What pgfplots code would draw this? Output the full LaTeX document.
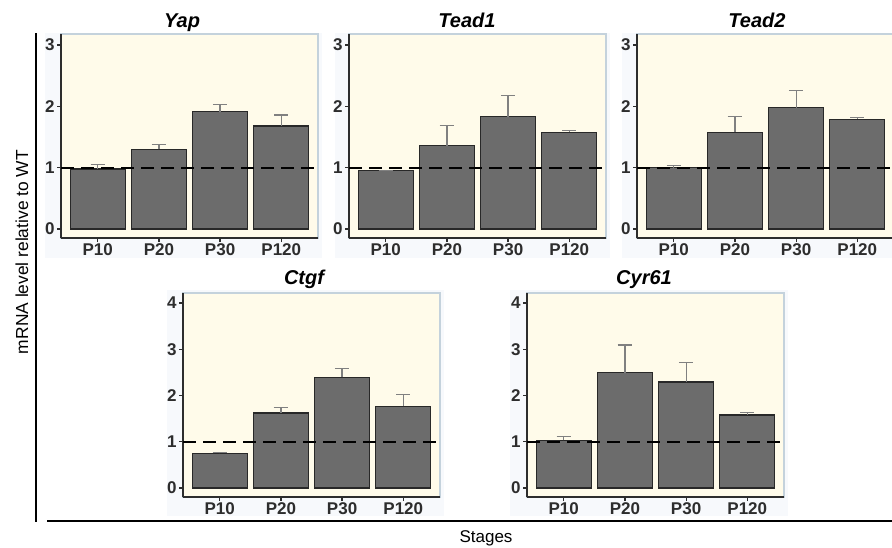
\documentclass[border=0pt]{standalone}
\usepackage{fontspec}
\setmainfont{Liberation Sans}
\usepackage{pgfplots}
\pgfplotsset{compat=1.18}
\definecolor{panelbg}{RGB}{255,251,234}
\definecolor{paneledge}{RGB}{196,210,220}
\definecolor{outerbg}{RGB}{247,249,252}
\definecolor{barfill}{RGB}{108,108,108}
\definecolor{baredge}{RGB}{40,40,40}
\definecolor{errgray}{RGB}{128,128,128}
\definecolor{axisdark}{RGB}{45,45,45}

\pgfplotsset{
  panel/.style={
    scale only axis, width=128.5pt, height=102pt,
    anchor=south west,
    axis background/.style={fill=panelbg, draw=paneledge, line width=0.6pt},
    axis x line*=bottom, axis y line*=left,
    axis line style={-, draw=axisdark, line width=0.7pt},
    every outer x axis line/.append style={-},
    every outer y axis line/.append style={-},
    xmin=-0.6, xmax=3.6, xtick={0,1,2,3},
    xticklabels={P10,P20,P30,P120},
    tick align=outside, major tick length=2pt,
    tick style={draw=axisdark, line width=0.6pt},
    /pgf/number format/assume math mode=true,
    ticklabel style={font=\bfseries\fontsize{8.5}{10}\selectfont, text=axisdark},
    xticklabel style={inner sep=0.6pt},
    yticklabel style={inner sep=1pt},
  },
  top/.style={panel, ymin=-0.147, ymax=3.18, ytick={0,1,2,3}},
  bot/.style={panel, ymin=-0.195, ymax=4.216, ytick={0,1,2,3,4}},
  bars/.style={ybar, bar width=0.9, fill=barfill, draw=baredge, line width=0.6pt,
    error bars/.cd, y dir=plus, y explicit,
    error bar style={errgray, line width=0.6pt},
    error mark options={rotate=90, errgray, line width=0.6pt, mark size=3.6pt}},
  refline/.style={black, line width=1.1pt, dash pattern=on 6.5pt off 3.5pt, forget plot},
}
\newcommand{\gtitle}{\bfseries\itshape\fontsize{10}{12}\selectfont}

\begin{document}
\begin{tikzpicture}
\path[use as bounding box] (0,0) rectangle (446pt,-273.5pt);

% faint panel surrounds
\fill[outerbg] (22.5pt,-16.5pt) rectangle (161pt,-129pt);
\fill[outerbg] (167.5pt,-16.5pt) rectangle (305pt,-129pt);
\fill[outerbg] (311pt,-16.5pt) rectangle (446pt,-129pt);
\fill[outerbg] (83.5pt,-145pt) rectangle (222pt,-258pt);
\fill[outerbg] (255pt,-145pt) rectangle (394pt,-258pt);

% Yap
\begin{axis}[top, at={(30.5pt,-119pt)}]
\addplot[bars] coordinates {
  (0,0.98) += (0,0.07)
  (1,1.30) += (0,0.08)
  (2,1.91) += (0,0.12)
  (3,1.68) += (0,0.18) };
\addplot[refline] coordinates {(-0.6,1) (3.6,1)};
\end{axis}

% Tead1
\begin{axis}[top, at={(174.5pt,-119pt)}]
\addplot[bars] coordinates {
  (0,0.95) += (0,0.0)
  (1,1.36) += (0,0.33)
  (2,1.83) += (0,0.35)
  (3,1.58) += (0,0.03) };
\addplot[refline] coordinates {(-0.6,1) (3.6,1)};
\end{axis}

% Tead2
\begin{axis}[top, at={(318.5pt,-119pt)}]
\addplot[bars] coordinates {
  (0,1.00) += (0,0.03)
  (1,1.58) += (0,0.25)
  (2,1.98) += (0,0.28)
  (3,1.79) += (0,0.03) };
\addplot[refline] coordinates {(-0.6,1) (3.6,1)};
\end{axis}

% Ctgf
\begin{axis}[bot, at={(91.5pt,-248.5pt)}]
\addplot[bars] coordinates {
  (0,0.75) += (0,0.02)
  (1,1.62) += (0,0.12)
  (2,2.39) += (0,0.20)
  (3,1.77) += (0,0.26) };
\addplot[refline] coordinates {(-0.6,1) (3.6,1)};
\end{axis}

% Cyr61
\begin{axis}[bot, at={(263.5pt,-248.5pt)}]
\addplot[bars] coordinates {
  (0,1.03) += (0,0.08)
  (1,2.49) += (0,0.60)
  (2,2.29) += (0,0.43)
  (3,1.58) += (0,0.06) };
\addplot[refline] coordinates {(-0.6,1) (3.6,1)};
\end{axis}

% panel titles
\node[anchor=base, font=\gtitle] at (91pt,-13.5pt) {Yap};
\node[anchor=base, font=\gtitle] at (233.5pt,-13.5pt) {Tead1};
\node[anchor=base, font=\gtitle] at (378.5pt,-13.5pt) {Tead2};
\node[anchor=base, font=\gtitle] at (152pt,-142pt) {Ctgf};
\node[anchor=base, font=\gtitle] at (322pt,-142pt) {Cyr61};

% shared axis labels and frame lines
\draw[black, line width=1pt] (18pt,-16.5pt) -- (18pt,-261pt);
\draw[black, line width=1pt] (23.5pt,-260.5pt) -- (446pt,-260.5pt);
\node[rotate=90, font=\fontsize{8.7}{10}\selectfont] at (11pt,-126pt) {mRNA level relative to WT};
\node[anchor=base, font=\fontsize{8.5}{10}\selectfont] at (243pt,-271pt) {Stages};
\end{tikzpicture}
\end{document}
